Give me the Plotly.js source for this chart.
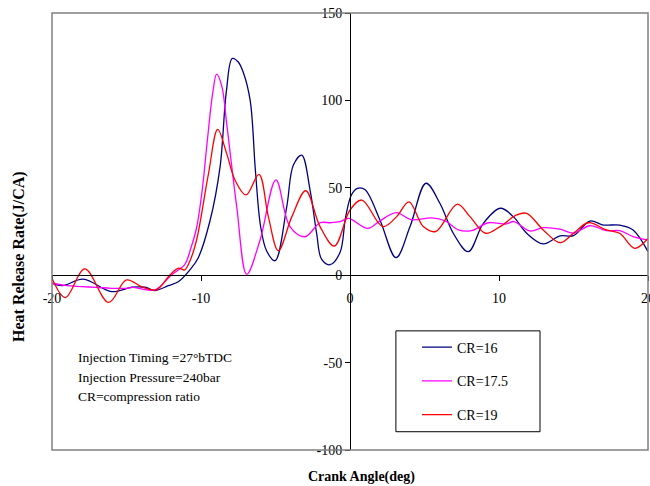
<!DOCTYPE html>
<html>
<head>
<meta charset="utf-8">
<script src="https://cdn.plot.ly/plotly-3.0.1.min.js"></script>
<style>html,body{margin:0;padding:0;background:#fff}#chart{width:650px;height:486px}</style>
</head>
<body>
<div id="chart"></div>
<script>
// Series names
const seriesNames = ['CR=16', 'CR=17.5', 'CR=19'];

// CR=16 (crank angle in deg, heat release rate in J/CA)
const angle16 = [-20, -19.3, -17.9, -16.0, -14.65, -13.75, -13.1, -12.2, -11.5, -10.75, -10.2, -9.4, -8.72, -8.3, -7.9, -7.5, -7.16, -6.7, -6.35, -6.0, -5.6, -5.03, -4.25, -3.8, -3.24, -2.68, -2.24, -1.9, -1.34, -0.67, -0.3, 0.1, 0.5, 1.0, 2.01, 3.09, 4.03, 5.1, 6.04, 6.93, 7.94, 8.95, 10.1, 10.96, 11.86, 12.97, 14.1, 15.0, 16.1, 17.0, 18.1, 19.0, 20];
const hrr16   = [-4.6, -6.0, -2.3, -9.4, -6.9, -6.9, -8.8, -6.0, -3.6, 3, 9.7, 31, 62, 105, 124, 122, 116, 100, 60, 28, 14, 8.3, 39, 63, 68.7, 48.7, 24, 9, 6, 13, 33, 46, 49.7, 49, 31.6, 10, 27.8, 52.6, 41, 24, 13.5, 29.7, 38.3, 33.5, 24, 17.9, 22.5, 22.6, 31, 28.7, 28.7, 25.9, 13.5];

// CR=17.5
const angle175 = [-20, -19, -18, -17, -16, -15, -14.6, -13.1, -12.0, -11.1, -10.7, -10.3, -9.9, -9.6, -9.2, -8.95, -8.6, -8.28, -7.6, -6.93, -6.04, -4.97, -4.03, -3.02, -2.01, -1.3, -0.67, -0.1, 1.2, 2.0, 3.1, 4.1, 5.5, 6.4, 7.27, 8.16, 9.28, 10.5, 11.0, 12.08, 12.97, 14.1, 15.0, 16.1, 17.2, 18.1, 19.0, 20];
const hrr175   = [-4.6, -6.0, -6.5, -7.0, -7.5, -7.5, -7.0, -8.4, 0, 6, 15, 27, 50, 75, 105, 115, 108, 87, 39, 0.5, 20, 54.5, 27.8, 22, 30, 30, 30.6, 32.5, 26.8, 31, 35.8, 31.8, 32.8, 31, 25.9, 25.5, 30, 29.3, 30.7, 25.3, 27.2, 26.3, 24, 28.3, 25.5, 25.5, 22.1, 20.2];

// CR=19
const angle19 = [-20, -19.1, -17.8, -16.2, -15.0, -14.0, -13.0, -12.1, -11.5, -11.1, -10.75, -10.3, -9.5, -8.88, -8.28, -7.72, -6.98, -6.11, -5.48, -4.81, -3.9, -2.97, -2.01, -1.05, 0, 0.8, 2.2, 3.13, 3.96, 4.92, 5.75, 7.2, 8.05, 9.1, 10.07, 11.19, 11.86, 12.97, 14.1, 15.0, 16.0, 17.2, 18.1, 19.1, 20];
const hrr19   = [-1.7, -12.8, 3.6, -15.6, -2.7, -6.5, -8.4, 0, 4, 3, 8, 20, 58, 83.4, 69.7, 54.5, 45.9, 57.7, 33.5, 14, 33.5, 48.3, 27.8, 16.7, 37.3, 43, 27.8, 33.5, 42, 27.8, 25, 40.7, 33.5, 24, 27.8, 34.5, 35.4, 25.9, 18.6, 24, 30, 25.9, 24, 15.4, 21];

// Ticks
const xTickVals = [-20, -10, 0, 10, 20];
const xTickText = ['-20', '-10', '0', '10', '20'];
const yTickVals = [-100, -50, 0, 50, 100, 150];
const yTickText = ['-100', '-50', '0', '50', '100', '150'];

const serif = "'Liberation Serif', 'Times New Roman', serif";
const lineStyle = (c) => ({color: c, width: 1.3, shape: 'spline', smoothing: 1});

const traces = [
  {x: angle16, y: hrr16, name: seriesNames[0], mode: 'lines', line: lineStyle('#000080'), legendgroup: 'a'},
  {x: angle175, y: hrr175, name: seriesNames[1], mode: 'lines', line: lineStyle('#FF00FF'), legendgroup: 'b'},
  {x: angle19, y: hrr19, name: seriesNames[2], mode: 'lines', line: lineStyle('#FF0000'), legendgroup: 'c'}
];

const layout = {
  width: 650, height: 486,
  margin: {l: 52, r: 2, t: 13, b: 36, pad: 0},
  paper_bgcolor: '#ffffff', plot_bgcolor: '#ffffff',
  font: {family: serif, size: 14, color: '#000'},
  showlegend: true,
  legend: {x: 0.6124, y: 0.271, xanchor: 'left', yanchor: 'top', bgcolor: 'rgba(0,0,0,0)', borderwidth: 0,
           tracegroupgap: 12.5, font: {family: serif, size: 14, color: '#000'}, itemwidth: 30},
  xaxis: {range: [-20, 20], anchor: 'free', position: 0.4, showline: true, linecolor: '#000', linewidth: 1,
          ticks: 'outside', ticklen: 5, tickcolor: '#000', showgrid: false, zeroline: false,
          tickvals: xTickVals, ticktext: xTickText, ticklabelstandoff: 5, ticklabeloverflow: 'allow',
          tickfont: {family: serif, size: 14, color: '#000'}},
  yaxis: {range: [-100, 150], anchor: 'free', position: 0.5, showline: true, linecolor: '#000', linewidth: 1,
          ticks: 'outside', ticklen: 5, tickcolor: '#000', showgrid: false, zeroline: false,
          tickvals: yTickVals, ticktext: yTickText, ticklabeloverflow: 'allow',
          tickfont: {family: serif, size: 14, color: '#000'}},
  shapes: [
    {type: 'rect', xref: 'paper', yref: 'paper', x0: 0, x1: 1, y0: 0, y1: 1, line: {color: '#808080', width: 1.5}},
    {type: 'rect', xref: 'paper', yref: 'paper', x0: 0.577, x1: 0.8188, y0: 0.0418, y1: 0.2726, line: {color: '#000', width: 1}}
  ],
  annotations: [
    {text: '<b>Heat Release Rate(J/CA)</b>', xref: 'paper', yref: 'paper', x: -0.0554, y: 0.444, textangle: -90,
     showarrow: false, xanchor: 'center', yanchor: 'middle', font: {family: serif, size: 16, color: '#000'}},
    {text: '<b>Crank Angle(deg)</b>', xref: 'paper', yref: 'paper', x: 0.52, y: -0.061,
     showarrow: false, xanchor: 'center', yanchor: 'middle', font: {family: serif, size: 14, color: '#000'}},
    {text: 'Injection Timing =27°bTDC', xref: 'paper', yref: 'paper', x: 0.0403, y: 0.2116,
     showarrow: false, xanchor: 'left', yanchor: 'middle', font: {family: serif, size: 13.5, color: '#000'}},
    {text: 'Injection Pressure=240bar', xref: 'paper', yref: 'paper', x: 0.0403, y: 0.1659,
     showarrow: false, xanchor: 'left', yanchor: 'middle', font: {family: serif, size: 13.5, color: '#000'}},
    {text: 'CR=compression ratio', xref: 'paper', yref: 'paper', x: 0.0403, y: 0.1225,
     showarrow: false, xanchor: 'left', yanchor: 'middle', font: {family: serif, size: 13.5, color: '#000'}}
  ]
};

Plotly.newPlot('chart', traces, layout, {displayModeBar: false, staticPlot: true});
</script>
</body>
</html>
